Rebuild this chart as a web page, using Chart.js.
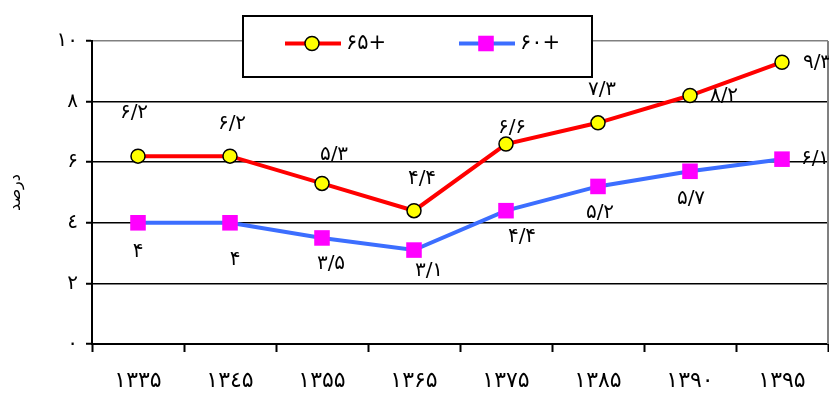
<!DOCTYPE html>
<html>
<head>
<meta charset="utf-8">
<script src="https://cdn.jsdelivr.net/npm/chart.js@4/dist/chart.umd.min.js"></script>
<style>
html,body{margin:0;padding:0;background:#fff;}
#wrap{width:829px;height:401px;position:relative;}
</style>
</head>
<body>
<div id="wrap"><canvas id="c" width="829" height="401"></canvas></div>
<script>
const categories = ['۱۳۳۵','۱۳٤۵','۱۳۵۵','۱۳۶۵','۱۳۷۵','۱۳۸۵','۱۳۹۰','۱۳۹۵'];
const series65 = [6.2, 6.2, 5.3, 4.4, 6.6, 7.3, 8.2, 9.3];
const series60 = [4.0, 4.0, 3.5, 3.1, 4.4, 5.2, 5.7, 6.1];
const labels65 = ['۶/۲','۶/۲','۵/۳','۴/۴','۶/۶','۷/۳','۸/۲','۹/۳'];
const labels60 = ['۴','۴','۳/۵','۳/۱','۴/۴','۵/۲','۵/۷','۶/۱'];
const yTickLabels = ['۰','۲','٤','۶','۸','۱۰'];
const seriesNames = ['۶۵+','۶۰+'];
const yTitle = 'درصد';

const FONT = '"DejaVu Sans", sans-serif';

// label offsets (style only)
const off65 = [[-4,-43],[2,-32],[12,-29],[8,-32],[6,-16],[4,-33],[34,0],[35,1]];
const off60 = [[0,29],[5,37],[9,26],[15,21],[16,26],[2,26],[1,28],[33,0]];

const labelPlugin = {
  id: 'labelsAndLegend',
  afterDraw(chart) {
    const ctx = chart.ctx;
    const ca = chart.chartArea;
    ctx.save();
    // right border
    ctx.strokeStyle = '#808080';
    ctx.lineWidth = 2;
    ctx.beginPath();
    ctx.moveTo(ca.right, ca.top);
    ctx.lineTo(ca.right, ca.bottom);
    ctx.stroke();

    // data labels
    ctx.fillStyle = '#000';
    ctx.font = '20px ' + FONT;
    ctx.textAlign = 'center';
    ctx.textBaseline = 'middle';
    const sets = [[0, labels65, off65], [1, labels60, off60]];
    sets.forEach(([di, labs, offs]) => {
      const meta = chart.getDatasetMeta(di);
      meta.data.forEach((pt, i) => {
        ctx.fillText(labs[i], pt.x + offs[i][0], pt.y + offs[i][1]);
      });
    });

    // legend box
    const bx = 243, by = 16, bw = 349, bh = 61;
    ctx.fillStyle = '#fff';
    ctx.fillRect(bx, by, bw, bh);
    ctx.strokeStyle = '#000';
    ctx.lineWidth = 2;
    ctx.strokeRect(bx, by, bw, bh);
    const items = [[0, 285], [1, 459]];
    const ly = by + bh / 2 - 3;
    items.forEach(([di, x0]) => {
      const ds = chart.data.datasets[di];
      ctx.strokeStyle = ds.borderColor;
      ctx.lineWidth = 4;
      ctx.beginPath();
      ctx.moveTo(x0, ly);
      ctx.lineTo(x0 + 56, ly);
      ctx.stroke();
      ctx.fillStyle = ds.pointBackgroundColor;
      ctx.strokeStyle = ds.pointBorderColor;
      ctx.lineWidth = ds.pointBorderWidth;
      ctx.beginPath();
      if (ds.pointStyle === 'circle') {
        ctx.arc(x0 + 27, ly, ds.pointRadius, 0, Math.PI * 2);
        ctx.fill();
        ctx.stroke();
      } else {
        const s = Math.SQRT1_2 * ds.pointRadius;
        ctx.fillRect(x0 + 27 - s, ly - s, 2 * s, 2 * s);
      }
      ctx.fillStyle = '#000';
      ctx.font = '21px ' + FONT;
      ctx.textAlign = 'left';
      ctx.textBaseline = 'middle';
      ctx.fillText(ds.label, x0 + 61, ly);
    });
    ctx.restore();
  }
};

new Chart(document.getElementById('c'), {
  type: 'line',
  data: {
    labels: categories,
    datasets: [
      {
        label: seriesNames[0],
        data: series65,
        borderColor: '#FF0000',
        backgroundColor: '#FF0000',
        borderWidth: 4,
        pointStyle: 'circle',
        pointRadius: 7,
        pointBackgroundColor: '#FFFF00',
        pointBorderColor: '#000000',
        pointBorderWidth: 1.5,
        tension: 0,
        clip: false
      },
      {
        label: seriesNames[1],
        data: series60,
        borderColor: '#3C6EFF',
        backgroundColor: '#3C6EFF',
        borderWidth: 4,
        pointStyle: 'rect',
        pointRadius: 11,
        pointBackgroundColor: '#FF00FF',
        pointBorderColor: '#FF00FF',
        pointBorderWidth: 0,
        tension: 0,
        clip: false
      }
    ]
  },
  options: {
    responsive: false,
    animation: false,
    events: [],
    layout: { autoPadding: false, padding: { top: 41, right: 1, left: 0, bottom: 0 } },
    plugins: { legend: { display: false }, tooltip: { enabled: false } },
    scales: {
      x: {
        type: 'category',
        offset: true,
        grid: { display: true, offset: true, drawOnChartArea: false, drawTicks: true, tickLength: 8, tickColor: '#000', tickWidth: 2 },
        border: { display: true, color: '#000', width: 2 },
        ticks: { color: '#000', font: { family: FONT, size: 22 }, padding: 16, maxRotation: 0, autoSkip: false },
        afterFit(scale) { scale.height = 57; scale.paddingLeft = 0; scale.paddingRight = 0; }
      },
      y: {
        min: 0, max: 10,
        ticks: {
          stepSize: 2, color: '#000', font: { family: FONT, size: 20 }, padding: 8,
          callback: (v) => yTickLabels[Math.round(v / 2)]
        },
        grid: {
          color: (c) => (c.tick && c.tick.value === 10) ? '#808080' : '#000',
          lineWidth: 1.5,
          drawTicks: true, tickLength: 6, tickColor: '#000', tickWidth: 2
        },
        border: { display: true, color: '#000', width: 2 },
        title: { display: true, text: yTitle, color: '#000', font: { family: FONT, size: 16 }, padding: { top: 6, bottom: 0 } },
        afterFit(scale) { scale.width = 92; scale.paddingTop = 0; scale.paddingBottom = 0; }
      }
    }
  },
  plugins: [labelPlugin]
});
</script>
</body>
</html>
